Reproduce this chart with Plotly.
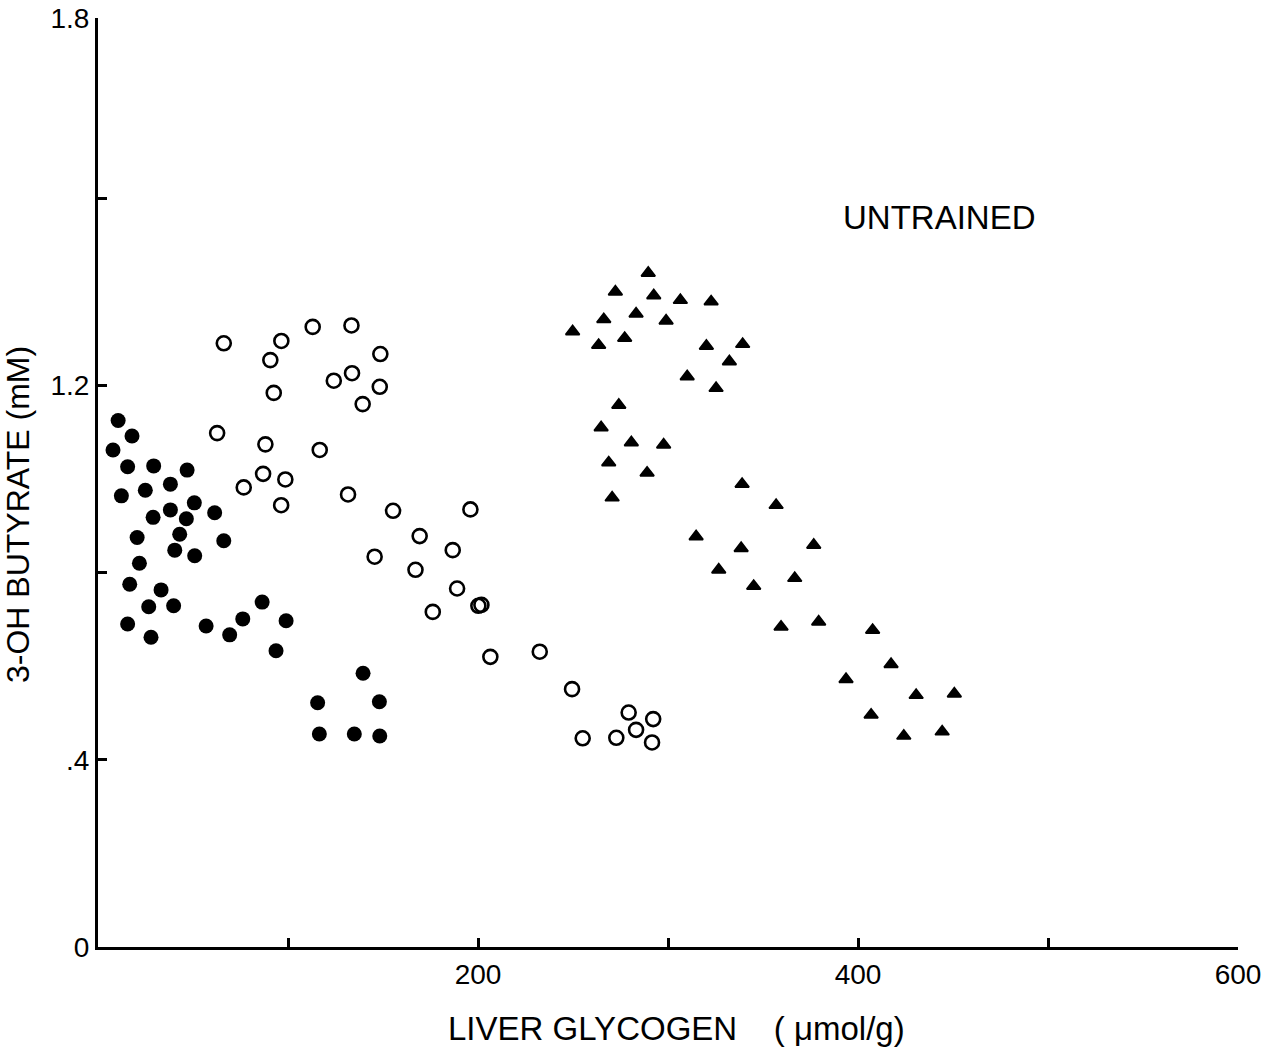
import plotly.graph_objects as go

# Filled circles
filled_x = [10.6, 17.9, 7.9, 15.6, 29.3, 46.9, 38.1, 12.3, 24.9, 50.7, 38.1, 29.0, 46.5, 61.4,
            43.0, 20.6, 40.4, 50.9, 66.2, 21.8, 16.7, 33.2, 26.7, 39.8, 15.6, 27.9, 56.9, 69.3,
            76.2, 86.4, 99.0, 93.7, 115.6, 116.5, 139.5, 148.1, 134.9, 148.3]
filled_y = [1.125, 1.092, 1.062, 1.026, 1.028, 1.019, 0.989, 0.964, 0.976, 0.949, 0.934, 0.918,
            0.915, 0.928, 0.882, 0.875, 0.848, 0.836, 0.868, 0.820, 0.775, 0.763, 0.727, 0.729,
            0.690, 0.662, 0.686, 0.667, 0.701, 0.737, 0.697, 0.633, 0.522, 0.455, 0.585, 0.524,
            0.455, 0.451]

# Open circles
open_x = [66.2, 96.5, 113.0, 133.4, 90.7, 148.6, 124.1, 133.7, 148.3, 92.5, 139.3, 62.7, 88.1,
          116.7, 86.9, 98.6, 76.7, 96.4, 131.6, 155.3, 196.0, 169.3, 186.7, 145.6, 167.1, 189.0,
          176.2, 200.2, 201.8, 206.5, 232.5, 249.5, 279.3, 292.2, 283.2, 255.1, 272.8, 291.6]
open_y = [1.290, 1.295, 1.325, 1.328, 1.254, 1.267, 1.210, 1.226, 1.197, 1.184, 1.160, 1.098,
          1.074, 1.062, 1.011, 0.999, 0.982, 0.944, 0.967, 0.932, 0.935, 0.878, 0.848, 0.834,
          0.806, 0.766, 0.716, 0.729, 0.731, 0.620, 0.631, 0.551, 0.501, 0.487, 0.464, 0.446,
          0.447, 0.437]

# Filled triangles
tri_x = [289.6, 272.3, 292.5, 306.5, 322.7, 266.2, 283.2, 299.0, 249.8, 263.5, 277.2, 320.2,
         339.3, 332.3, 310.1, 325.3, 274.1, 264.8, 280.7, 297.7, 268.8, 289.0, 270.6, 339.0,
         356.9, 314.8, 338.5, 376.7, 326.7, 345.1, 366.7, 359.5, 379.3, 407.7, 417.4, 393.7,
         430.6, 450.7, 406.9, 424.1, 444.3]
tri_y = [1.440, 1.400, 1.392, 1.382, 1.379, 1.341, 1.353, 1.338, 1.315, 1.286, 1.301, 1.284,
         1.288, 1.251, 1.219, 1.194, 1.158, 1.110, 1.078, 1.073, 1.035, 1.013, 0.960, 0.989,
         0.944, 0.877, 0.852, 0.859, 0.806, 0.771, 0.788, 0.684, 0.695, 0.677, 0.604, 0.572,
         0.538, 0.541, 0.496, 0.451, 0.460]

x_tickvals = [100, 200, 300, 400, 500, 600]
x_ticktext = ["", "200", "", "400", "", "600"]
y_tickvals = [0, 0.4, 0.8, 1.2, 1.6, 1.985]
y_ticktext = ["0", ".4", "", "1.2", "", "1.8"]

FONT = "Liberation Sans, Arial, Helvetica, sans-serif"

fig = go.Figure()
fig.add_trace(go.Scatter(x=filled_x, y=filled_y, mode="markers",
                         marker=dict(symbol="circle", size=15, color="black",
                                     line=dict(width=0)), showlegend=False))
fig.add_trace(go.Scatter(x=open_x, y=open_y, mode="markers",
                         marker=dict(symbol="circle-open", size=14, color="black",
                                     line=dict(width=2.6, color="black")), showlegend=False))
fig.add_trace(go.Scatter(x=tri_x, y=tri_y, mode="markers",
                         marker=dict(symbol="triangle-up", size=12, color="black",
                                     line=dict(width=1.8, color="black")), showlegend=False))

fig.update_layout(
    width=1274, height=1053,
    margin=dict(l=98, r=36, t=18, b=106),
    paper_bgcolor="white", plot_bgcolor="white",
    font=dict(family=FONT, color="black", size=26),
    xaxis=dict(range=[0, 600], showgrid=False, zeroline=False, showline=True,
               linecolor="black", linewidth=3, ticks="inside", ticklen=9, tickwidth=3,
               tickcolor="black", tickvals=x_tickvals, ticktext=x_ticktext,
               tickfont=dict(size=28, family=FONT), automargin=False),
    yaxis=dict(range=[0, 1.985], showgrid=False, zeroline=False, showline=True,
               linecolor="black", linewidth=3, ticks="inside", ticklen=9, tickwidth=3,
               tickcolor="black", tickvals=y_tickvals, ticktext=y_ticktext,
               tickfont=dict(size=28, family=FONT), automargin=False),
    annotations=[
        dict(text="UNTRAINED", x=443, y=1.558, xref="x", yref="y", showarrow=False,
             font=dict(size=33, family=FONT), xanchor="center", yanchor="middle"),
        dict(text="LIVER GLYCOGEN    ( μmol/g)", x=(676 - 98) / 1140, y=-(1028 - 947) / 929,
             xref="paper", yref="paper", showarrow=False,
             font=dict(size=33, family=FONT), xanchor="center", yanchor="middle"),
        dict(text="3-OH BUTYRATE (mM)", x=(18 - 98) / 1140, y=(947 - 515) / 929,
             xref="paper", yref="paper", showarrow=False, textangle=-90,
             font=dict(size=32, family=FONT), xanchor="center", yanchor="middle"),
    ],
)

fig.write_html("out.html")
